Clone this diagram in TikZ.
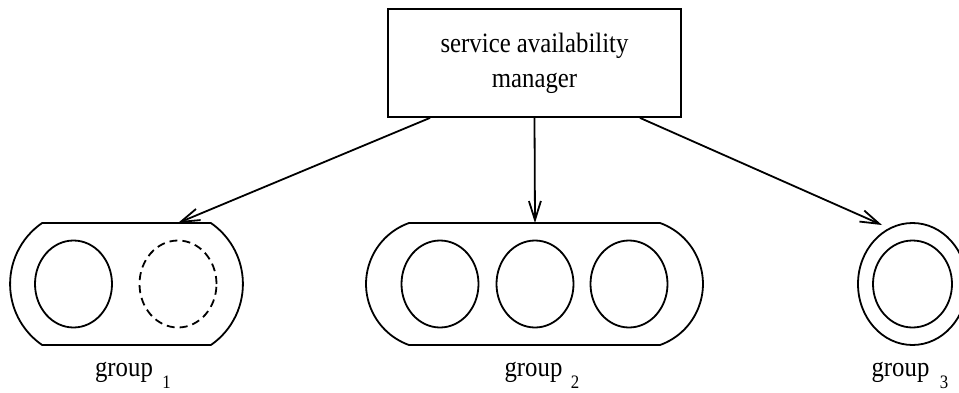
\documentclass[tikz,border=0pt]{standalone}
\usepackage{fontspec}
\setmainfont{Liberation Serif}
\usetikzlibrary{arrows.meta,shapes.geometric}
\newcommand\hsq[1]{\scalebox{0.885}[1]{#1}}
\begin{document}
\begin{tikzpicture}[x=1pt,y=1pt,
  lw/.style={line width=1.8pt},
  mgr/.style={draw, lw, minimum width=293pt, minimum height=108pt, inner sep=0pt, font=\fontsize{28}{35}\selectfont},
  member/.style={draw, lw, ellipse, minimum width=77pt, minimum height=87pt, inner sep=0pt},
  ring/.style={draw, lw},
  arr/.style={lw, -{Straight Barb[length=19pt,width=12pt]}},
  lbl/.style={anchor=base, inner sep=0pt, font=\fontsize{28}{32}\selectfont},
  sublbl/.style={anchor=base west, inner sep=0pt, font=\fontsize{19}{21}\selectfont}
]
\useasboundingbox (0,0) rectangle (959,392);

% manager box
\node[mgr] (sam) at (534.5,329) {\raisebox{4.5pt}{\hsq{\begin{tabular}{@{}c@{}}service availability\\ manager\end{tabular}}}};

% group 1
\draw[ring] (42.1,169) arc[start angle=124.6, end angle=235.4, radius=74.1] -- (210.9,47) arc[start angle=-55.4, end angle=55.4, radius=74.1] -- cycle;
\node[member] (g1a) at (73.5,108) {};
\node[member, dash pattern=on 8pt off 5pt] (g1b) at (178,108) {};
\coordinate (g1in) at (178,169);

% group 2
\draw[ring] (409,169) arc[start angle=109.7, end angle=250.3, radius=64.8] -- (660,47) arc[start angle=-70.3, end angle=70.3, radius=64.8] -- cycle;
\node[member] (g2a) at (440,108) {};
\node[member] (g2b) at (535,108) {};
\node[member] (g2c) at (629,108) {};
\coordinate (g2in) at (535,169);

% group 3
\node[draw, lw, ellipse, minimum width=109pt, minimum height=122pt, inner sep=0pt] (g3) at (912.5,108) {};
\node[member, minimum width=79pt] (g3a) at (912.5,108) {};
\coordinate (g3in) at (882,167);

% arrows
\coordinate (s1) at ([xshift=-104.5pt]sam.south);
\coordinate (s3) at ([xshift=105.5pt]sam.south);
\draw[arr] (s1) -- (g1in);
\draw[arr] (sam.south) -- (g2in);
\draw[arr] (s3) -- (g3in);

% labels
\node[lbl] (l1) at (124,16) {\hsq{group}};
\node[sublbl] at ([xshift=9pt,yshift=-12pt]l1.base east) {\hsq{1}};
\node[lbl] (l2) at (533.5,16) {\hsq{group}};
\node[sublbl] at ([xshift=8pt,yshift=-12pt]l2.base east) {\hsq{2}};
\node[lbl] (l3) at (900.5,16) {\hsq{group}};
\node[sublbl] at ([xshift=10pt,yshift=-12pt]l3.base east) {\hsq{3}};
\end{tikzpicture}
\end{document}
